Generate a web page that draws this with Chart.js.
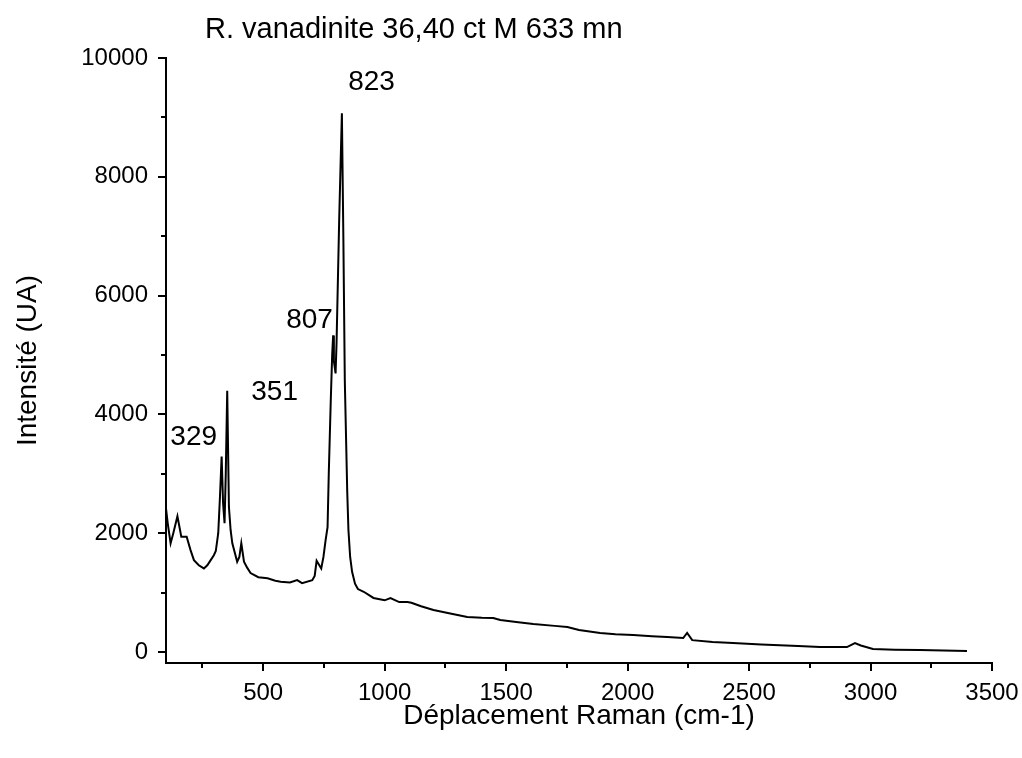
<!DOCTYPE html>
<html>
<head>
<meta charset="utf-8">
<script src="https://cdn.jsdelivr.net/npm/chart.js@4.4.1/dist/chart.umd.min.js"></script>
<style>
  body { margin: 0; background: #fff; }
  canvas { display: block; }
</style>
</head>
<body>
<canvas id="spectrum" width="1022" height="758"></canvas>
<script>
// Raman spectrum
const ramanShift = [
    100, 107, 119, 130, 147, 163, 185, 201, 215, 235, 256, 270, 284, 297, 305, 315, 322, 329, 335, 341,
    346, 352, 359, 366, 373, 393, 402, 410, 421, 434, 448, 480, 518, 550, 572, 610, 640, 660, 702, 712,
    720, 739, 748, 757, 765, 770, 778, 784, 788, 791, 798, 802, 813, 824, 830, 836, 846, 851, 858, 866,
    878, 890, 914, 954, 1000, 1024, 1060, 1094, 1110, 1150, 1201, 1270, 1340, 1400, 1447, 1476, 1550,
    1612, 1700, 1752, 1800, 1887, 1950, 2023, 2100, 2163, 2229, 2245, 2266, 2350, 2434, 2550, 2702,
    2792, 2903, 2936, 2960, 3010, 3100, 3203, 3300, 3397
];
const intensity = [
    2420, 2170, 1830, 2000, 2286, 1940, 1940, 1715, 1547, 1460, 1407, 1460, 1547, 1630, 1700, 2000, 2600, 3290, 2500, 2170,
    3000, 4400, 2443, 2050, 1830, 1520, 1600, 1830, 1520, 1420, 1330, 1260, 1240, 1200, 1182, 1170, 1210, 1160, 1210, 1280,
    1535, 1407, 1600, 1883, 2100, 3000, 4200, 5000, 5330, 4900, 4690, 5200, 7300, 9070, 7000, 4570, 2700, 2050, 1600, 1350,
    1150, 1060, 1014, 910, 870, 908, 840, 840, 830, 770, 706, 650, 590, 575, 572, 538, 500,
    470, 440, 420, 370, 320, 300, 286, 265, 252, 235, 320, 200, 170, 150, 125, 100,
    84, 84, 151, 110, 50, 40, 34, 25, 17
];

const xMajorTicks = [500, 1000, 1500, 2000, 2500, 3000, 3500];
const xMinorTicks = [250, 750, 1250, 1750, 2250, 2750, 3250];
const yMajorTicks = [0, 2000, 4000, 6000, 8000, 10000];
const yMinorTicks = [1000, 3000, 5000, 7000, 9000];

const peakLabels = ['823', '807', '351', '329'];
const peakLabelX = [946, 691, 547, 214];
const peakLabelY = [9599, 5581, 4371, 3614];

const chartTitle = 'R. vanadinite 36,40 ct M 633 mn';
const xTitle = 'Déplacement Raman (cm-1)';
const yTitle = 'Intensité (UA)';

const fontFamily = "'Liberation Sans', Arial, sans-serif";

const points = ramanShift.map((x, i) => ({ x: x, y: intensity[i] }));

// minor ticks, peak labels and the title
const extrasPlugin = {
    id: 'extras',
    afterDraw(chart) {
        const ctx = chart.ctx;
        const xs = chart.scales.x;
        const ys = chart.scales.y;
        const area = chart.chartArea;
        ctx.save();
        ctx.strokeStyle = '#000';
        ctx.lineWidth = 2;
        ctx.beginPath();
        xMinorTicks.forEach(v => {
            const px = Math.round(xs.getPixelForValue(v));
            ctx.moveTo(px, area.bottom);
            ctx.lineTo(px, area.bottom + 5);
        });
        yMinorTicks.forEach(v => {
            const py = Math.round(ys.getPixelForValue(v));
            ctx.moveTo(area.left, py);
            ctx.lineTo(area.left - 5, py);
        });
        ctx.stroke();

        ctx.fillStyle = '#000';
        ctx.font = '28px ' + fontFamily;
        ctx.textAlign = 'center';
        ctx.textBaseline = 'middle';
        peakLabels.forEach((t, i) => {
            ctx.fillText(t, xs.getPixelForValue(peakLabelX[i]), ys.getPixelForValue(peakLabelY[i]));
        });

        ctx.font = '29px ' + fontFamily;
        ctx.textAlign = 'left';
        ctx.fillText(chartTitle, 205, 30);
        ctx.restore();
    }
};

const ctx = document.getElementById('spectrum').getContext('2d');
new Chart(ctx, {
    type: 'scatter',
    data: {
        datasets: [{
            data: points,
            showLine: true,
            borderColor: '#000',
            borderWidth: 2,
            pointRadius: 0,
            tension: 0
        }]
    },
    options: {
        responsive: false,
        animation: false,
        layout: { padding: { top: 58, right: 30, bottom: 0, left: 0 } },
        plugins: {
            legend: { display: false },
            tooltip: { enabled: false }
        },
        scales: {
            x: {
                type: 'linear',
                min: 100,
                max: 3500,
                afterBuildTicks: scale => { scale.ticks = xMajorTicks.map(v => ({ value: v })); },
                afterFit: scale => { scale.height = 95; scale.paddingLeft = 0; scale.paddingRight = 0; },
                border: { display: true, color: '#000', width: 2 },
                grid: { drawOnChartArea: false, color: '#000', lineWidth: 2, tickLength: 8 },
                ticks: {
                    color: '#000',
                    padding: 8,
                    maxRotation: 0,
                    font: { family: fontFamily, size: 24 },
                    callback: v => String(v)
                },
                title: {
                    display: true,
                    text: xTitle,
                    color: '#000',
                    padding: { top: 0, bottom: 25 },
                    font: { family: fontFamily, size: 28 }
                }
            },
            y: {
                min: -185,
                max: 10000,
                afterBuildTicks: scale => { scale.ticks = yMajorTicks.map(v => ({ value: v })); },
                afterFit: scale => { scale.width = 166; scale.paddingTop = 0; scale.paddingBottom = 0; },
                border: { display: true, color: '#000', width: 2 },
                grid: { drawOnChartArea: false, color: '#000', lineWidth: 2, tickLength: 8 },
                ticks: {
                    color: '#000',
                    padding: 10,
                    font: { family: fontFamily, size: 24 },
                    callback: v => String(v)
                },
                title: {
                    display: true,
                    text: yTitle,
                    color: '#000',
                    padding: { top: 11, bottom: 0 },
                    font: { family: fontFamily, size: 28 }
                }
            }
        }
    },
    plugins: [extrasPlugin]
});
</script>
</body>
</html>
